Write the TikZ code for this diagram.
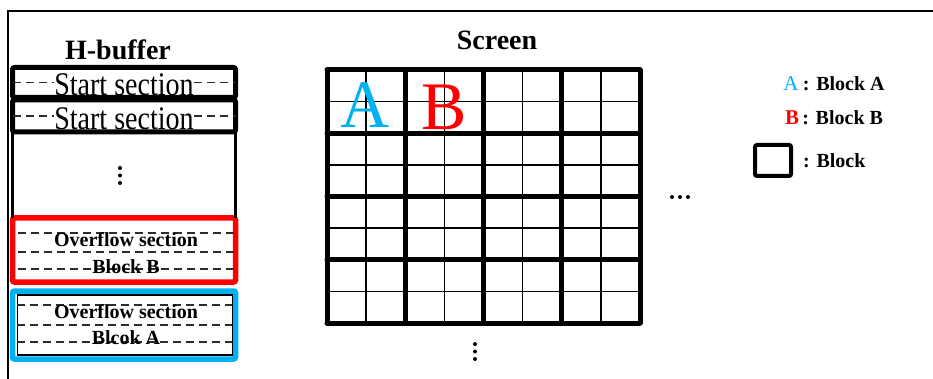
\documentclass[tikz,border=0pt]{standalone}
\usepackage{fontspec}
\setmainfont{Liberation Serif}
\newfontfamily\narrowserif{Liberation Serif}[FakeStretch=0.85]
\usepackage{tikz}
\usetikzlibrary{positioning}
\definecolor{blkA}{RGB}{0,176,240}
\definecolor{blkB}{RGB}{255,0,0}
\definecolor{dashgray}{RGB}{45,45,45}

\begin{document}
\begin{tikzpicture}[x=1pt, y=-1pt,
  frm/.style={line width=2.5pt},
  sect/.style={draw, line width=5pt, rounded corners=2pt, minimum width=223pt, inner sep=0pt, outer sep=0pt},
  ovsec/.style={draw, line width=5.5pt, rounded corners=2pt, minimum width=223pt, inner sep=0pt, outer sep=0pt},
  col/.style={line width=2.5pt},
  dsh/.style={dashed, dash pattern=on 8pt off 5pt, line width=1.4pt, dashgray},
  sectxt/.style={font=\narrowserif\fontsize{33}{33}\selectfont, inner sep=0pt, anchor=base},
  ovtxt/.style={font=\bfseries\fontsize{20}{20}\selectfont, inner sep=0pt},
  ttl/.style={font=\bfseries\fontsize{28}{28}\selectfont, inner sep=0pt},
  thinln/.style={line width=1.4pt},
  thickln/.style={line width=5pt, line cap=round},
  big/.style={font=\fontsize{68}{68}\selectfont, inner sep=0pt, anchor=base},
  legtxt/.style={font=\bfseries\fontsize{20}{20}\selectfont, inner sep=0pt},
  dot/.style={circle, fill, inner sep=0pt, minimum size=4pt}
]
  \useasboundingbox (0,0) rectangle (933,379);
  % frame
  \draw[frm] (8,379) -- (8,11) -- (933,11);

  % titles
  \node[ttl] (hbuf) at (118,50) {H-buffer};
  \node[ttl] (scrttl) at (497,40) {Screen};

  % H-buffer
  \node[sect, minimum height=30pt] (start1) at (124,82.5) {};
  \node[sect, minimum height=32pt] (start2) at (124,116) {};
  \node[ovsec, draw=blkB, minimum height=64pt] (ovB) at (124,250) {};
  \node[ovsec, draw=blkA, minimum height=68pt] (ovA) at (124,325) {};
  \node[draw, line width=1.4pt, minimum width=215pt, minimum height=60pt, inner sep=0pt] (ovAin) at (125,325) {};
  \draw[col] (start2.south west) -- (ovB.north west);
  \draw[col] (start2.south east) -- (ovB.north east);

  \node[sectxt] (s1txt) at (124,96) {Start section};
  \node[sectxt] (s2txt) at (124,130) {Start section};
  \draw[dsh] (start1.west) -- (start1.west -| s1txt.west);
  \draw[dsh] (start1.east -| s1txt.east) -- (start1.east);
  \draw[dsh] (start2.west) -- (start2.west -| s2txt.west);
  \draw[dsh] (start2.east -| s2txt.east) -- (start2.east);

  \foreach \s in {17,-2,-19}
    \draw[dsh] ([yshift=\s pt, xshift=5pt]ovB.west) -- ([yshift=\s pt, xshift=-1pt]ovB.east);
  \foreach \s in {20,0,-17}
    \draw[dsh] ([yshift=\s pt, xshift=4pt]ovA.west) -- ([yshift=\s pt, xshift=-4pt]ovA.east);
  \node[ovtxt] (ovBt1) at (126,240) {Overflow section};
  \node[ovtxt] (ovBt2) at (126,267) {Block B};
  \node[ovtxt] (ovAt1) at (126,312) {Overflow section};
  \node[ovtxt] (ovAt2) at (126,338) {Blcok A};

  \foreach \d [count=\k] in {168,175.5,183}
    \node[dot] (cdot\k) at (120,\d) {};

  % screen
  \foreach \i in {0,...,8}
    \draw[thinln] (327+\i*39.125,70) -- (327+\i*39.125,323);
  \foreach \j in {0,...,8}
    \draw[thinln] (327,70+\j*31.625) -- (640,70+\j*31.625);
  \foreach \i in {0,...,4}
    \draw[thickln] (327+\i*78.25,70) -- (327+\i*78.25,323);
  \foreach \j in {0,...,4}
    \draw[thickln] (327,70+\j*63.25) -- (640,70+\j*63.25);

  \node[big, text=blkA] (bigA) at (365,128) {A};
  \node[big, text=blkB] (bigB) at (444,130) {B};

  \foreach \d [count=\k] in {344,351.5,359}
    \node[dot] (sdot\k) at (475,\d) {};
  \foreach \d [count=\k] in {672,680,688}
    \node[dot] (hdot\k) at (\d,197) {};

  % legend
  \node[font=\fontsize{21}{21}\selectfont, text=blkA, inner sep=0pt] (legA) at (791,84) {A};
  \node[legtxt, right=4pt of legA] (legAt) {: Block A};
  \node[font=\bfseries\fontsize{21}{21}\selectfont, text=blkB, inner sep=0pt] (legB) at (792,118) {B};
  \node[legtxt, right=3pt of legB] (legBt) {: Block B};
  \node[draw, line width=4pt, rounded corners=2pt, minimum width=36pt, minimum height=31pt, inner sep=0pt] (legBox) at (773,160.5) {};
  \node[legtxt, right=10pt of legBox] (legBoxt) {: Block};
\end{tikzpicture}
\end{document}
